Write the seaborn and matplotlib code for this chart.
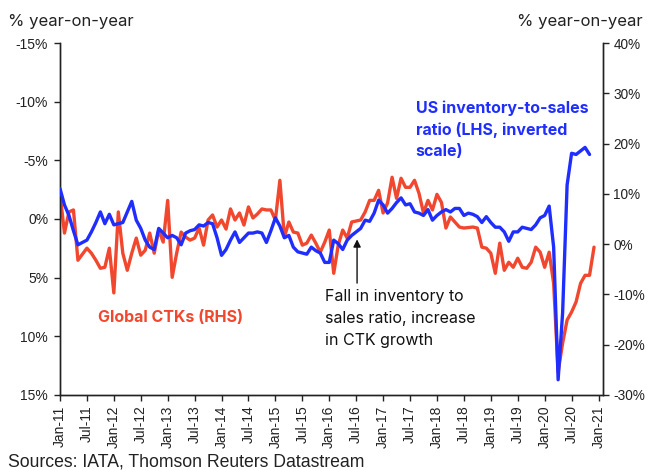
import numpy as np
import pandas as pd
import matplotlib
matplotlib.use("Agg")
import matplotlib.pyplot as plt
import seaborn as sns

# monthly data, Jan-11 onwards
# US inventory-to-sales ratio, % y/y (LHS, inverted)
inv_sales = [-2.6, -1.2, -0.3, 1.0, 2.2, 2.0, 1.8, 1.1, 0.3, -0.6,
             0.4, -0.4, 0.5, 0.4, 0.3, -0.6, -1.5, 0.1, 0.8, 1.8,
             2.4, 2.6, 0.8, 1.2, 1.6, 1.4, 1.6, 2.2, 1.2, 1.0,
             0.9, 0.5, 0.6, 0.3, 0.4, 1.6, 3.1, 2.6, 1.8, 1.1,
             2.0, 1.6, 1.2, 1.2, 1.1, 1.2, 2.0, 1.0, -0.1, 0.6,
             1.6, 1.4, 2.4, 2.8, 2.9, 3.0, 2.4, 2.7, 2.9, 3.7,
             3.7, 1.8, 2.1, 2.6, 1.8, 1.4, 1.1, 0.8, 0.1, 0.2,
             -0.5, -1.6, -1.2, -0.5, -0.9, -1.4, -1.8, -1.2, -1.3, -0.6,
             -0.5, -0.3, -0.8, 0.1, -0.3, -0.6, -0.8, -0.6, -0.9, -0.9,
             -0.3, -0.5, -0.4, -0.2, 0.3, -0.2, 0.3, 0.7, 0.7, 1.1,
             1.9, 1.1, 1.1, 0.7, 0.8, 0.9, 0.5, -0.1, -0.3, -1.1,
             2.4, 13.7, 8.0, -2.9, -5.6, -5.5, -5.8, -6.1, -5.5]

# Global CTKs, % y/y (RHS)
ctks = [10.1, 2.2, 6.4, 6.8, -3.2, -2.0, -0.8, -1.8, -3.2, -4.8,
        -4.6, -0.8, -9.7, 6.4, -1.8, -5.2, -1.8, 1.2, -2.2, -1.2,
        2.2, -1.8, 2.8, 0.4, 8.7, -6.6, -1.8, 2.4, 1.4, 0.8,
        1.2, 3.2, -0.2, 4.8, 5.8, 3.4, 4.8, 3.0, 7.0, 4.8,
        6.2, 3.8, 7.4, 5.2, 6.0, 7.0, 6.8, 6.8, 4.8, 12.7,
        1.4, 4.4, 2.4, 2.2, -0.2, 0.2, 1.8, 0.2, -1.6, 0.4,
        2.8, -5.8, -0.2, 2.8, 1.2, 4.4, 4.6, 4.8, 6.4, 8.7,
        8.7, 10.7, 6.2, 8.2, 13.3, 9.1, 13.1, 11.3, 11.3, 12.7,
        10.1, 6.2, 8.7, 6.8, 9.9, 8.3, 3.2, 5.4, 4.4, 3.4,
        3.2, 3.3, 3.4, 3.2, -0.6, -0.8, -1.8, -5.8, 0.2, -5.2,
        -3.6, -4.6, -2.8, -4.6, -4.8, -3.6, -0.6, -1.6, -4.6, -1.6,
        -7.8, -25.4, -19.7, -15.1, -13.5, -11.5, -7.8, -6.2, -6.2, -0.6]

tick_labels = ["Jan-11", "Jul-11", "Jan-12", "Jul-12", "Jan-13", "Jul-13",
               "Jan-14", "Jul-14", "Jan-15", "Jul-15", "Jan-16", "Jul-16",
               "Jan-17", "Jul-17", "Jan-18", "Jul-18", "Jan-19", "Jul-19",
               "Jan-20", "Jul-20", "Jan-21"]

blue = "#1F2EFF"
red = "#F2472F"

df_inv = pd.DataFrame({"month": np.arange(len(inv_sales)), "value": inv_sales})
df_ctk = pd.DataFrame({"month": np.arange(len(ctks)), "value": ctks})

sns.set_style("white")
plt.rcParams["font.family"] = ["Liberation Sans", "DejaVu Sans"]
txt_font = ["Inter", "DejaVu Sans"]

fig = plt.figure(figsize=(6.47, 4.70), dpi=100)
ax = fig.add_axes([0.0927, 0.1596, 0.8393, 0.7489])
ax2 = ax.twinx()

sns.lineplot(data=df_inv, x="month", y="value", ax=ax, color=blue, lw=2.4, zorder=3)
sns.lineplot(data=df_ctk, x="month", y="value", ax=ax2, color=red, lw=2.4, zorder=2)
ax.set_zorder(ax2.get_zorder() + 1)
ax.patch.set_visible(False)

# left axis inverted
ax.set_ylim(15, -15)
ax.set_yticks(np.arange(-15, 16, 5))
ax.set_yticklabels([f"{v}%" for v in range(-15, 16, 5)])
ax2.set_ylim(-30, 40)
ax2.set_yticks(np.arange(-30, 41, 10))
ax2.set_yticklabels([f"{v}%" for v in range(-30, 41, 10)])

ax.set_xlim(0, 121)
ax.set_xticks(np.arange(0, 121, 6))
ax.set_xticklabels(tick_labels, rotation=90)
ax.set_xlabel("")
ax.set_ylabel("")
ax2.set_ylabel("")

for a in (ax, ax2):
    a.spines["top"].set_visible(False)
    for s in ("left", "right", "bottom"):
        a.spines[s].set_color("#222222")
        a.spines[s].set_linewidth(1.0)
    a.tick_params(axis="both", length=4.5, width=1, color="#222222",
                  labelsize=10, labelcolor="#222222")
ax.tick_params(axis="y", left=True, pad=4)
ax.tick_params(axis="x", bottom=True, labelsize=10, pad=3)
ax2.tick_params(axis="y", right=True, pad=3, labelsize=9.8)

fig.text(0.012, 0.955, "% year-on-year", fontsize=12, color="#222222",
         family=txt_font, va="center")
fig.text(0.993, 0.955, "% year-on-year", fontsize=12, color="#222222",
         family=txt_font, va="center", ha="right")

ax.text(0.655, 0.838, "US inventory-to-sales\nratio (LHS, inverted\nscale)",
        transform=ax.transAxes, color=blue, fontsize=11.5, fontweight="bold",
        family=txt_font, va="top", ha="left", linespacing=1.5)
ax.text(0.07, 0.22, "Global CTKs (RHS)", transform=ax.transAxes, color=red,
        fontsize=11.5, fontweight="bold", family=txt_font,
        va="center", ha="left")
ax.text(0.488, 0.30, "Fall in inventory to\nsales ratio, increase\nin CTK growth",
        transform=ax.transAxes, color="#111111", fontsize=11.5,
        family=txt_font, va="top", ha="left", linespacing=1.55)
ax.annotate("", xy=(66.2, 1.5), xytext=(66.2, 5.7),
            arrowprops=dict(arrowstyle="-|>", color="#111111", lw=1.0,
                            mutation_scale=11))

fig.text(0.012, 0.018, "Sources: IATA, Thomson Reuters Datastream", fontsize=12.7,
         color="#222222", family=["Liberation Sans", "DejaVu Sans"],
         va="center")

fig.savefig("out.png", dpi=100)
